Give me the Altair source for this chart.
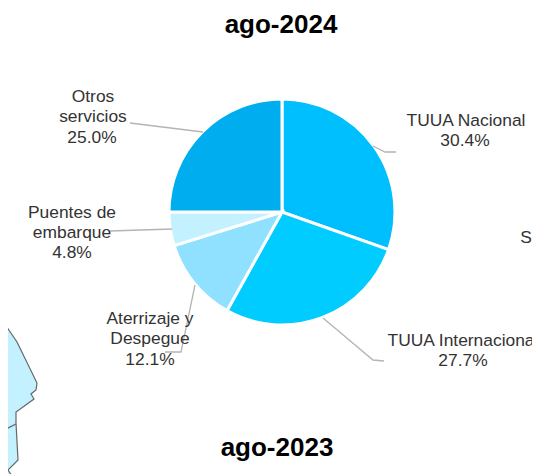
import altair as alt
import pandas as pd

# Slice data
categories = ["TUUA Nacional", "TUUA Internacional", "Aterrizaje y Despegue", "Puentes de embarque", "Otros servicios"]
shares = [30.4, 27.7, 12.1, 4.8, 25.0]
slice_colors = ["#00BFFF", "#00CCFF", "#90E0FF", "#C4F1FF", "#00AEEF"]

OX, OY = 8, 8  # page margin

# Label lines: text, x centre, baseline y (page pixels)
label_text = ["Otros", "servicios", "25.0%", "Puentes de", "embarque", "4.8%",
              "Aterrizaje y", "Despegue", "12.1%", "TUUA Internacional", "27.7%",
              "TUUA Nacional", "30.4%", "S"]
label_x = [93, 93, 92, 72, 72, 72, 150, 150, 150, 463, 463, 466, 465, 526]
label_y = [102, 122, 143, 218, 238, 258, 324, 344, 365, 346, 366, 126, 146, 243]

title_text = ["ago-2024", "ago-2023"]
title_x = [281, 277]
title_y = [33, 456]

leader_id = ["a", "a", "b", "b", "c", "c", "c", "d", "d", "d", "e", "e", "e"]
leader_x = [130, 203, 110, 172, 195, 181, 165, 323, 373, 384, 373, 385, 396]
leader_y = [123, 132, 231, 229, 285, 352, 352, 318, 360, 361, 146, 152, 152]

map_outer = [(-5, 310), (0, 317), (17, 342), (37, 383), (36, 390), (31, 394), (34, 399), (16, 412),
             (16, 423), (18, 460), (8, 470), (12, 476), (-5, 476)]
map_inner = [(16, 424), (0, 432), (-5, 434)]

slices = pd.DataFrame({"cat": categories, "share": shares, "ord": range(5)})
labels = pd.DataFrame({"t": label_text, "x": [v - OX for v in label_x], "y": [v - OY for v in label_y]})
titles = pd.DataFrame({"t": title_text, "x": [v - OX for v in title_x], "y": [v - OY for v in title_y]})
leaders = pd.DataFrame({"id": leader_id, "x": [v - OX for v in leader_x], "y": [v - OY for v in leader_y],
                        "o": range(len(leader_id))})


def shift(pts):
    return [[x - OX, y - OY] for x, y in pts]


map_features = [
    {"type": "Feature", "properties": {}, "geometry": {"type": "Polygon", "coordinates": [shift(map_outer + [map_outer[0]])]}},
    {"type": "Feature", "properties": {}, "geometry": {"type": "LineString", "coordinates": shift(map_inner)}},
]

X = alt.X("x:Q", scale=None, axis=None)
Y = alt.Y("y:Q", scale=None, axis=None)

geo = alt.Chart(alt.Data(values=map_features)).mark_geoshape(
    fill="#C4F1FF", stroke="#666666", strokeWidth=1.2, filled=True
).project(type="identity", scale=1, translate=[0, 0])

pie = alt.Chart(slices).mark_arc(radius=113, stroke="white", strokeWidth=3).encode(
    x=alt.value(282 - OX),
    y=alt.value(212 - OY),
    theta=alt.Theta("share:Q", stack=True),
    order=alt.Order("ord:Q"),
    color=alt.Color("cat:N", scale=alt.Scale(domain=categories, range=slice_colors), legend=None),
)

lines = alt.Chart(leaders).mark_line(color="#B4B4B4", strokeWidth=1.3).encode(
    x=X, y=Y, detail="id:N", order="o:Q"
)

text = alt.Chart(labels).mark_text(
    font="Liberation Sans", fontSize=17.4, color="#333333", align="center", baseline="alphabetic"
).encode(x=X, y=Y, text="t:N")

head = alt.Chart(titles).mark_text(
    font="Liberation Sans", fontSize=26, fontWeight="bold", color="#000000", align="center", baseline="alphabetic"
).encode(x=X, y=Y, text="t:N")

chart = alt.layer(geo, pie, lines, text, head).properties(
    width=524, height=466, padding=0, autosize=alt.AutoSizeParams(type="none")
).configure_view(stroke=None).resolve_scale(color="independent")

chart.save("out.html", embed_options={"renderer": "svg", "actions": False})
